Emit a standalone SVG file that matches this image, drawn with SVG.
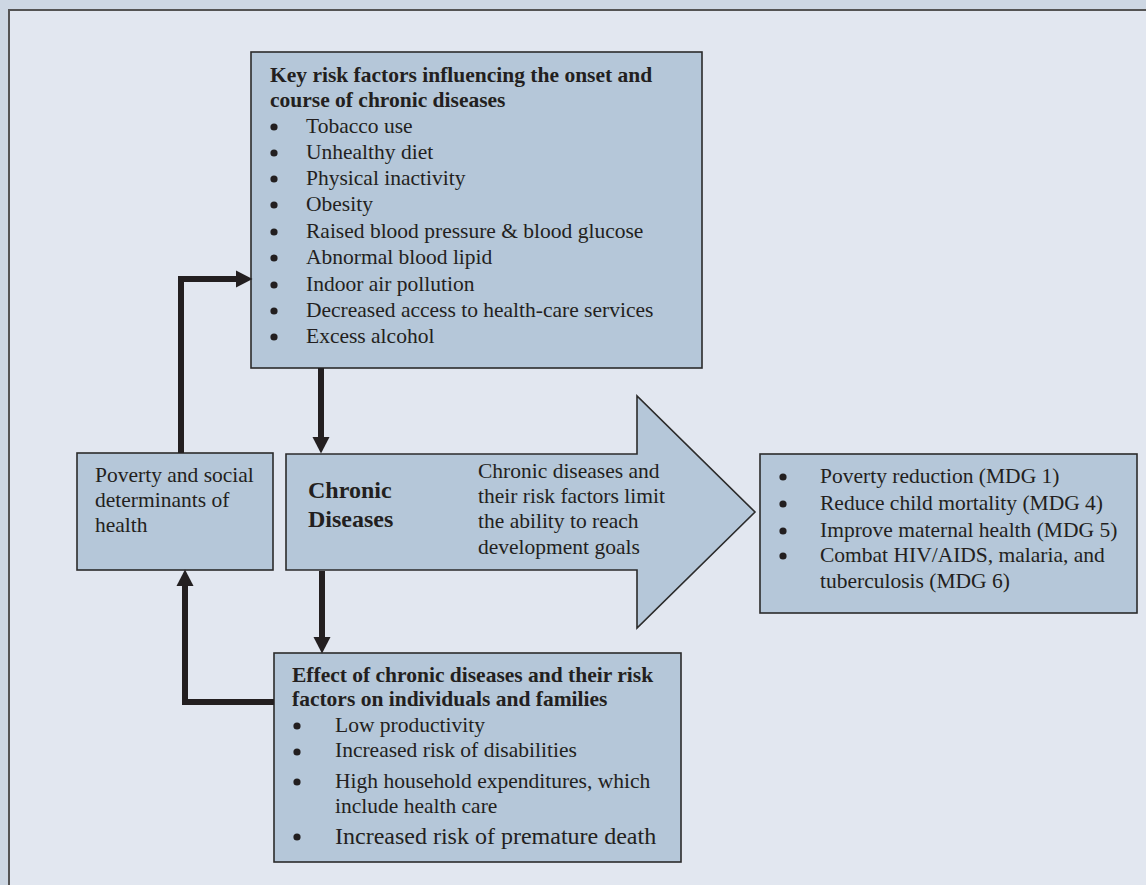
<svg xmlns="http://www.w3.org/2000/svg" width="1146" height="885" viewBox="0 0 1146 885">
<style>
.box{fill:#b5c7d9;stroke:#2b2b2b;stroke-width:1.6}
.t{font-family:"Liberation Serif","Times New Roman",serif;font-size:21.5px;fill:#231f20}
.b{font-weight:bold}
.dot{fill:#231f20}
.conn{fill:none;stroke:#231f20;stroke-width:6;stroke-linejoin:miter}
</style>
<defs>
<marker id="ah" markerUnits="userSpaceOnUse" markerWidth="17" markerHeight="18" refX="0" refY="8.5" orient="auto" viewBox="0 0 17 18" overflow="visible">
<path d="M0,0 L16.5,8.5 L0,17 Z" fill="#231f20"/>
</marker>
</defs>
<rect x="0" y="0" width="1146" height="885" fill="#cdd7e3"/>
<rect x="9" y="10" width="1150" height="890" fill="#e2e7f0" stroke="#545454" stroke-width="2"/>

<g id="key-risk-factors">
<rect class="box" x="251" y="52" width="451" height="316"/>
<text class="t b" x="270" y="82">Key risk factors influencing the onset and</text>
<text class="t b" x="270" y="107">course of chronic diseases</text>
<circle class="dot" cx="274" cy="127" r="3.6"/><text class="t" x="306" y="133">Tobacco use</text>
<circle class="dot" cx="274" cy="153" r="3.6"/><text class="t" x="306" y="159">Unhealthy diet</text>
<circle class="dot" cx="274" cy="179" r="3.6"/><text class="t" x="306" y="185">Physical inactivity</text>
<circle class="dot" cx="274" cy="205" r="3.6"/><text class="t" x="306" y="211">Obesity</text>
<circle class="dot" cx="274" cy="232" r="3.6"/><text class="t" x="306" y="238">Raised blood pressure &amp; blood glucose</text>
<circle class="dot" cx="274" cy="258" r="3.6"/><text class="t" x="306" y="264">Abnormal blood lipid</text>
<circle class="dot" cx="274" cy="285" r="3.6"/><text class="t" x="306" y="291">Indoor air pollution</text>
<circle class="dot" cx="274" cy="311" r="3.6"/><text class="t" x="306" y="317">Decreased access to health-care services</text>
<circle class="dot" cx="274" cy="337" r="3.6"/><text class="t" x="306" y="343">Excess alcohol</text>
</g>

<g id="poverty">
<rect class="box" x="77" y="453" width="196" height="117"/>
<text class="t" x="95" y="482">Poverty and social</text>
<text class="t" x="95" y="507">determinants of</text>
<text class="t" x="95" y="532">health</text>
</g>

<g id="chronic-diseases">
<path class="box" d="M286,454 H637 V396 L755,512 L637,628 V570 H286 Z"/>
<text class="t b" x="308" y="498" style="font-size:24px">Chronic</text>
<text class="t b" x="308" y="527" style="font-size:24px">Diseases</text>
<text class="t" x="478" y="478">Chronic diseases and</text>
<text class="t" x="478" y="503">their risk factors limit</text>
<text class="t" x="478" y="528">the ability to reach</text>
<text class="t" x="478" y="554">development goals</text>
</g>

<g id="development-goals">
<rect class="box" x="760" y="454" width="377" height="159"/>
<circle class="dot" cx="783" cy="477" r="3.6"/><text class="t" x="820" y="483">Poverty reduction (MDG 1)</text>
<circle class="dot" cx="783" cy="504" r="3.6"/><text class="t" x="820" y="510">Reduce child mortality (MDG 4)</text>
<circle class="dot" cx="783" cy="531" r="3.6"/><text class="t" x="820" y="537">Improve maternal health (MDG 5)</text>
<circle class="dot" cx="783" cy="556" r="3.6"/><text class="t" x="820" y="562">Combat HIV/AIDS, malaria, and</text>
<text class="t" x="820" y="588">tuberculosis (MDG 6)</text>
</g>

<g id="effects">
<rect class="box" x="274" y="653" width="407" height="209"/>
<text class="t b" x="292" y="682">Effect of chronic diseases and their risk</text>
<text class="t b" x="292" y="706">factors on individuals and families</text>
<circle class="dot" cx="297" cy="726" r="3.6"/><text class="t" x="335" y="732">Low productivity</text>
<circle class="dot" cx="297" cy="752" r="3.6"/><text class="t" x="335" y="757">Increased risk of disabilities</text>
<circle class="dot" cx="297" cy="782" r="3.6"/><text class="t" x="335" y="788">High household expenditures, which</text>
<text class="t" x="335" y="813">include health care</text>
<circle class="dot" cx="297" cy="837" r="3.6"/><text class="t" x="335" y="844" style="font-size:24px">Increased risk of premature death</text>
</g>

<g id="connectors">
<path class="conn" d="M181,453 V279 H236" marker-end="url(#ah)"/>
<path class="conn" d="M321,368 V437" marker-end="url(#ah)"/>
<path class="conn" d="M322,571 V637" marker-end="url(#ah)"/>
<path class="conn" d="M274,702 H185 V586" marker-end="url(#ah)"/>
</g>
</svg>
